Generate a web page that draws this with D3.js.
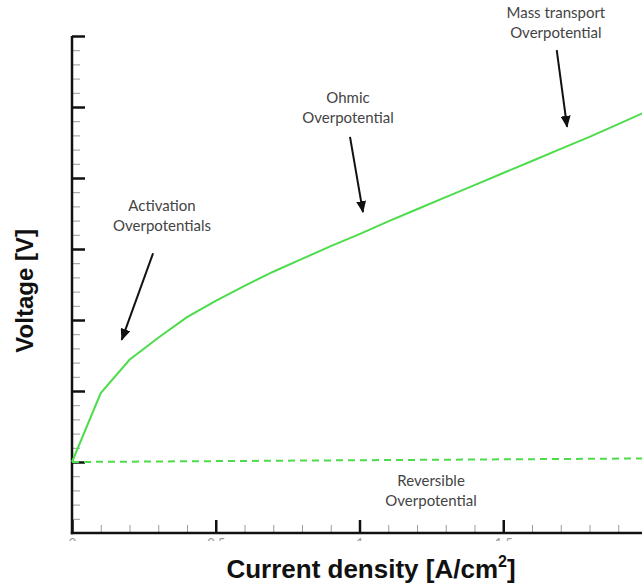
<!DOCTYPE html>
<html>
<head>
<meta charset="utf-8">
<script src="https://cdn.jsdelivr.net/npm/d3@7"></script>
<style>
  html, body { margin: 0; padding: 0; background: #fff; }
  svg { display: block; }
</style>
</head>
<body>
<div id="chart"></div>
<script>
// polarization curve (x in A/cm2, y in axis units)
const currentDensity = [0, 0.1, 0.2, 0.3, 0.4, 0.5, 0.6, 0.7, 0.8, 0.9, 1.0,
                        1.1, 1.2, 1.3, 1.4, 1.5, 1.6, 1.7, 1.8, 1.9, 2.0];
const voltage = [1.00, 1.97, 2.44, 2.75, 3.04, 3.27, 3.48, 3.68, 3.86, 4.04, 4.21,
                 4.39, 4.56, 4.73, 4.90, 5.07, 5.24, 5.41, 5.58, 5.76, 5.94];
const reversibleX = [0, 2.0];
const reversibleV = [1.00, 1.05];

// labels below the axis are mostly hidden in the original, only their tops show
const xTickLabels = ["0", "0.5", "1", "1.5"];
const xMajorTicks = [0, 0.5, 1, 1.5];
const yMajorTicks = [1, 2, 3, 4, 5, 6, 7];

// annotation text + arrow (tail -> tip), in data units
const annoLines = [
  ["Activation", "Overpotentials"],
  ["Ohmic", "Overpotential"],
  ["Mass transport", "Overpotential"],
  ["Reversible", "Overpotential"]
];
const annoAt = [[0.313, 4.53], [0.96, 6.06], [1.683, 7.25], [1.249, 0.66]];
const arrowTail = [[0.282, 3.94], [0.967, 5.58], [1.686, 6.80], null];
const arrowTip  = [[0.173, 2.72], [1.012, 4.52], [1.722, 5.72], null];

const width = 642, height = 585;
const margin = {top: 36, right: -5, bottom: 52, left: 72};

const svg = d3.select("#chart").append("svg")
    .attr("width", width)
    .attr("height", height);

svg.append("rect").attr("width", width).attr("height", height).attr("fill", "#fff");

const x = d3.scaleLinear().domain([0, 2]).range([margin.left, width - margin.right]);
const y = d3.scaleLinear().domain([0, 7]).range([height - margin.bottom, margin.top]);

const defs = svg.append("defs");
defs.append("clipPath").attr("id", "labelClip")
  .append("rect").attr("x", -40).attr("y", 0).attr("width", 80).attr("height", 8);
defs.append("marker")
    .attr("id", "arrow")
    .attr("viewBox", "0 0 12 10")
    .attr("refX", 11).attr("refY", 5)
    .attr("markerWidth", 12).attr("markerHeight", 10)
    .attr("markerUnits", "userSpaceOnUse")
    .attr("orient", "auto")
  .append("path").attr("d", "M0,0L12,5L0,10Z").attr("fill", "#111");

// minor ticks
const xMinor = d3.range(0, 2.0001, 0.1).filter(v => Math.abs(v * 2 - Math.round(v * 2)) > 1e-6);
const yMinor = d3.range(0, 7.0001, 0.2).filter(v => Math.abs(v - Math.round(v)) > 1e-6);

svg.append("g")
    .attr("transform", `translate(0,${y(0)})`)
    .call(d3.axisBottom(x).tickValues(xMinor).tickSize(-8).tickSizeOuter(0).tickFormat(""))
    .call(g => g.select(".domain").remove())
    .call(g => g.selectAll("line").attr("stroke", "#9a9a9a").attr("stroke-width", 1));

svg.append("g")
    .attr("transform", `translate(${x(0)},0)`)
    .call(d3.axisLeft(y).tickValues(yMinor).tickSize(-8).tickSizeOuter(0).tickFormat(""))
    .call(g => g.select(".domain").remove())
    .call(g => g.selectAll("line").attr("stroke", "#9a9a9a").attr("stroke-width", 1));

// major axes
const xAxis = svg.append("g")
    .attr("transform", `translate(0,${y(0)})`)
    .call(d3.axisBottom(x).tickValues(xMajorTicks).tickSize(-13).tickSizeOuter(0).tickPadding(6)
      .tickFormat((d, i) => xTickLabels[i]));
xAxis.select(".domain").attr("stroke", "#111").attr("stroke-width", 2.5)
    .attr("d", `M${x(0) - 1.2},0H${x(2)}`);
xAxis.selectAll("line").attr("stroke", "#111").attr("stroke-width", 2.5);
xAxis.selectAll("text")
    .attr("font-family", "Lato, sans-serif").attr("font-size", 13).attr("fill", "#999")
    .attr("clip-path", "url(#labelClip)");

const yAxis = svg.append("g")
    .attr("transform", `translate(${x(0)},0)`)
    .call(d3.axisLeft(y).tickValues(yMajorTicks).tickSize(-13).tickSizeOuter(0).tickFormat(""));
yAxis.select(".domain").attr("stroke", "#111").attr("stroke-width", 2.5)
    .attr("d", `M0,${y(7)}V${y(0) + 1.2}`);
yAxis.selectAll("line").attr("stroke", "#111").attr("stroke-width", 2.5);

// reversible voltage (dashed)
svg.append("path")
    .datum(reversibleX.map((d, i) => [d, reversibleV[i]]))
    .attr("fill", "none")
    .attr("stroke", "#4cdc4c")
    .attr("stroke-width", 2)
    .attr("stroke-dasharray", "7,5")
    .attr("d", d3.line().x(d => x(d[0])).y(d => y(d[1])));

// polarization curve
svg.append("path")
    .datum(currentDensity.map((d, i) => [d, voltage[i]]))
    .attr("fill", "none")
    .attr("stroke", "#4cdc4c")
    .attr("stroke-width", 2)
    .attr("d", d3.line().x(d => x(d[0])).y(d => y(d[1])));

// annotations
annoLines.forEach((lines, i) => {
    const t = svg.append("text")
        .attr("x", x(annoAt[i][0]))
        .attr("y", y(annoAt[i][1]))
        .attr("text-anchor", "middle")
        .attr("font-family", "Lato, sans-serif")
        .attr("font-size", 15)
        .attr("fill", "#444");
    lines.forEach((s, j) => {
        t.append("tspan").attr("x", x(annoAt[i][0])).attr("dy", j ? 20 : 0).text(s);
    });
    if (arrowTail[i]) {
        svg.append("line")
            .attr("x1", x(arrowTail[i][0])).attr("y1", y(arrowTail[i][1]))
            .attr("x2", x(arrowTip[i][0])).attr("y2", y(arrowTip[i][1]))
            .attr("stroke", "#111").attr("stroke-width", 2)
            .attr("marker-end", "url(#arrow)");
    }
});

// axis titles
svg.append("text")
    .attr("transform", `translate(33,${y(3.41)}) rotate(-90)`)
    .attr("text-anchor", "middle")
    .attr("font-family", "'Liberation Sans', Arial, sans-serif")
    .attr("font-weight", "bold")
    .attr("font-size", 24)
    .attr("fill", "#111")
    .text("Voltage [V]");

const xt = svg.append("text")
    .attr("x", 371)
    .attr("y", 578)
    .attr("text-anchor", "middle")
    .attr("font-family", "'Liberation Sans', Arial, sans-serif")
    .attr("font-weight", "bold")
    .attr("font-size", 26)
    .attr("fill", "#111");
xt.append("tspan").text("Current density [A/cm");
xt.append("tspan").attr("font-size", 16).attr("dy", -11).text("2");
xt.append("tspan").attr("dy", 11).text("]");
</script>
</body>
</html>
